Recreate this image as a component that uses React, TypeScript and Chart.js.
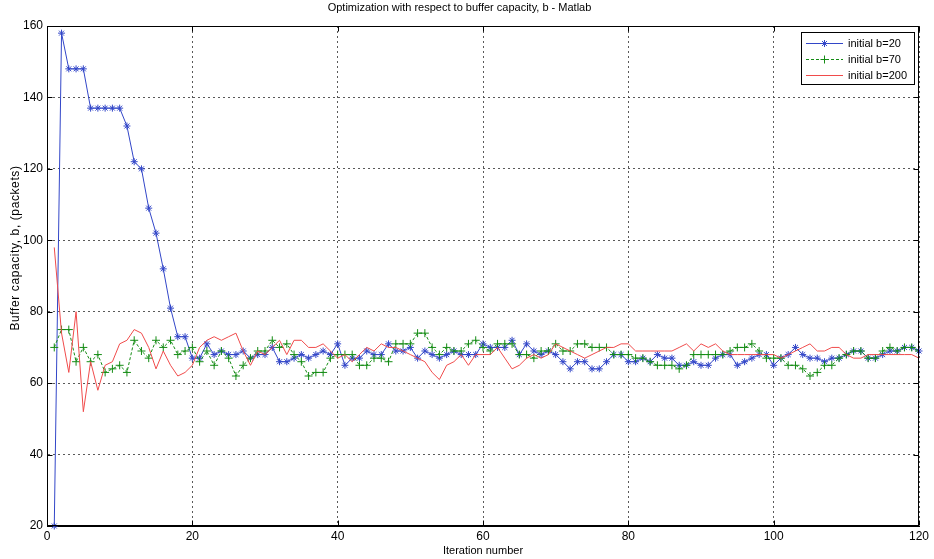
import React, { useEffect, useRef } from 'react';
import { Chart, registerables } from 'chart.js';

Chart.register(...registerables);

const chartTitle = 'Optimization with respect to buffer capacity, b - Matlab';
const xAxisTitle = 'Iteration number';
const yAxisTitle = 'Buffer capacity, b, (packets)';
const xTicks = [0, 20, 40, 60, 80, 100, 120];
const yTicks = [20, 40, 60, 80, 100, 120, 140, 160];
const seriesNames = ['initial b=20', 'initial b=70', 'initial b=200'];

const initialB20 = [
  20, 158, 148, 148, 148, 137, 137, 137, 137, 137,
  132, 122, 120, 109, 102, 92, 81, 73, 73, 67,
  67, 71, 68, 69, 68, 68, 69, 67, 68, 68,
  70, 66, 66, 67, 68, 67, 68, 69, 68, 71,
  65, 67, 67, 69, 68, 68, 71, 69, 69, 70,
  67, 69, 68, 67, 68, 69, 68, 68, 68, 71,
  70, 70, 70, 72, 68, 71, 69, 68, 69, 68,
  66, 64, 66, 66, 64, 64, 66, 68, 68, 66,
  66, 67, 66, 68, 67, 67, 65, 65, 66, 65,
  65, 67, 68, 68, 65, 66, 67, 68, 68, 65,
  67, 68, 70, 68, 67, 67, 66, 67, 67, 68,
  69, 69, 67, 67, 68, 69, 69, 70, 70, 69,
];

const initialB70 = [
  70, 75, 75, 66, 70, 66, 68, 63, 64, 65,
  63, 72, 69, 67, 72, 70, 72, 68, 69, 70,
  66, 69, 65, 69, 67, 62, 65, 67, 69, 69,
  72, 70, 71, 68, 66, 62, 63, 63, 67, 68,
  68, 68, 65, 65, 67, 67, 66, 71, 71, 71,
  74, 74, 70, 68, 70, 69, 69, 71, 72, 70,
  69, 71, 71, 71, 68, 68, 67, 69, 69, 71,
  69, 69, 71, 71, 70, 70, 70, 68, 68, 68,
  67, 67, 66, 65, 65, 65, 64, 65, 68, 68,
  68, 68, 68, 69, 70, 70, 71, 69, 67, 67,
  67, 65, 65, 64, 62, 63, 65, 65, 67, 68,
  69, 69, 67, 67, 69, 70, 69, 70, 70, 69,
];

const initialB200 = [
  98, 74, 63, 80, 52, 66, 58, 65, 66, 71,
  72, 75, 74, 70, 64, 69, 65, 62, 63, 65,
  70, 72, 73, 72, 73, 74, 69, 65, 69, 68,
  70, 72, 68, 72, 72, 70, 70, 71, 69, 67,
  68, 66, 68, 70, 69, 71, 70, 70, 69, 68,
  67, 66, 63, 61, 65, 66, 68, 65, 68, 68,
  68, 70, 67, 64, 65, 67, 68, 67, 68, 71,
  70, 69, 68, 67, 68, 69, 70, 70, 71, 71,
  69, 69, 69, 69, 69, 69, 70, 71, 69, 71,
  70, 71, 69, 68, 68, 68, 68, 68, 68, 68,
  67, 68, 69, 70, 71, 69, 69, 70, 70, 68,
  67, 67, 68, 68, 68, 68, 68, 68, 68, 67,
];

const iterations = Array.from({ length: initialB20.length }, (_, i) => i + 1);

const BLUE = 'rgb(50,70,200)';
const GREEN = 'rgb(20,140,20)';
const RED = 'rgb(240,75,75)';
const FONT = '"Liberation Sans", Arial, sans-serif';

const matlabFrame = {
  id: 'matlabFrame',
  afterDraw(chart: any) {
    const { ctx, chartArea: a, scales } = chart;
    const L = Math.round(a.left) + 0.5;
    const R = Math.round(a.right) - 0.5;
    const T = Math.round(a.top) + 0.5;
    const B = Math.round(a.bottom) - 0.5;
    ctx.save();
    ctx.strokeStyle = '#000';
    ctx.lineWidth = 1;
    ctx.setLineDash([]);
    ctx.strokeRect(L, T, R - L, B - T);
    const tl = 5;
    ctx.beginPath();
    for (const v of xTicks) {
      const px = Math.round(scales.x.getPixelForValue(v)) + 0.5;
      ctx.moveTo(px, B); ctx.lineTo(px, B - tl);
      ctx.moveTo(px, T); ctx.lineTo(px, T + tl);
    }
    for (const v of yTicks) {
      const py = Math.round(scales.y.getPixelForValue(v)) + 0.5;
      ctx.moveTo(L, py); ctx.lineTo(L + tl, py);
      ctx.moveTo(R, py); ctx.lineTo(R - tl, py);
    }
    ctx.stroke();

    // y axis label (Matlab places it slightly above the axis centre here)
    ctx.save();
    ctx.translate(16, 248);
    ctx.rotate(-Math.PI / 2);
    ctx.font = `12px ${FONT}`;
    try { (ctx as any).letterSpacing = '0.6px'; } catch (e) {}
    ctx.fillStyle = '#000';
    ctx.textAlign = 'center';
    ctx.textBaseline = 'middle';
    ctx.fillText(yAxisTitle, 0, 0);
    ctx.restore();

    // legend box
    const bx = 801.5, by = 32.5, bw = 113, bh = 52;
    ctx.fillStyle = '#fff';
    ctx.fillRect(bx, by, bw, bh);
    ctx.strokeRect(bx, by, bw, bh);
    const rows = [43, 59, 75];
    const colors = [BLUE, GREEN, RED];
    const dashes = [[], [3, 2], []];
    ctx.font = `11px ${FONT}`;
    ctx.textBaseline = 'middle';
    ctx.textAlign = 'left';
    rows.forEach((ry, i) => {
      const y = ry + 0.5;
      ctx.strokeStyle = colors[i];
      ctx.setLineDash(dashes[i]);
      ctx.beginPath();
      ctx.moveTo(806, y);
      ctx.lineTo(843, y);
      ctx.stroke();
      ctx.setLineDash([]);
      const mx = 824.5;
      const r = 3.5;
      ctx.beginPath();
      if (i === 0) {
        ctx.moveTo(mx - r, y); ctx.lineTo(mx + r, y);
        ctx.moveTo(mx, y - r); ctx.lineTo(mx, y + r);
        const d = r * 0.707;
        ctx.moveTo(mx - d, y - d); ctx.lineTo(mx + d, y + d);
        ctx.moveTo(mx - d, y + d); ctx.lineTo(mx + d, y - d);
      } else if (i === 1) {
        ctx.moveTo(mx - 4, y); ctx.lineTo(mx + 4, y);
        ctx.moveTo(mx, y - 4); ctx.lineTo(mx, y + 4);
      }
      ctx.stroke();
      ctx.fillStyle = '#000';
      ctx.fillText(seriesNames[i], 848, y);
    });
    ctx.restore();
  },
};

export default function App() {
  const ref = useRef<HTMLCanvasElement | null>(null);
  useEffect(() => {
    if (!ref.current) return;
    const chart = new Chart(ref.current, {
      type: 'line',
      data: {
        labels: iterations,
        datasets: [
          {
            label: seriesNames[0],
            data: initialB20,
            borderColor: BLUE,
            backgroundColor: BLUE,
            borderWidth: 1,
            pointStyle: 'star',
            pointRadius: 3.5,
            pointBorderColor: BLUE,
            pointBorderWidth: 1,
            tension: 0,
            fill: false,
            order: 2,
            clip: 6,
          },
          {
            label: seriesNames[1],
            data: initialB70,
            borderColor: GREEN,
            backgroundColor: GREEN,
            borderWidth: 1,
            borderDash: [3, 2],
            pointStyle: 'cross',
            pointRadius: 4,
            pointBorderColor: GREEN,
            pointBorderWidth: 1,
            tension: 0,
            fill: false,
            order: 1,
          },
          {
            label: seriesNames[2],
            data: initialB200,
            borderColor: RED,
            backgroundColor: RED,
            borderWidth: 1,
            pointRadius: 0,
            tension: 0,
            fill: false,
            order: 0,
          },
        ],
      },
      options: {
        responsive: false,
        animation: false,
        layout: { padding: { left: 0, right: 15, top: 0, bottom: 0 } },
        plugins: {
          legend: { display: false },
          tooltip: { enabled: false },
          title: {
            display: true,
            text: chartTitle,
            color: '#000',
            font: { family: FONT, size: 11, weight: 'normal' },
            padding: { top: 1, bottom: 11.8 },
          },
        },
        scales: {
          x: {
            type: 'linear',
            min: 0,
            max: 120,
            afterBuildTicks: (s: any) => { s.ticks = xTicks.map((v) => ({ value: v })); },
            afterFit: (s: any) => { s.height = 33; },
            ticks: { color: '#000', font: { family: FONT, size: 12 }, padding: 3, maxRotation: 0 },
            grid: { color: 'rgba(60,60,60,0.85)', lineWidth: 1, drawTicks: false },
            border: { display: true, color: '#000', width: 1, dash: [2, 3] },
            title: {
              display: true,
              text: xAxisTitle,
              color: '#000',
              font: { family: FONT, size: 11 },
              padding: { top: 0, bottom: 1 },
            },
          },
          y: {
            type: 'linear',
            min: 20,
            max: 160,
            afterBuildTicks: (s: any) => { s.ticks = yTicks.map((v) => ({ value: v })); },
            afterFit: (s: any) => { s.width = 47; },
            ticks: { color: '#000', font: { family: FONT, size: 12 }, padding: 4 },
            grid: { color: 'rgba(60,60,60,0.85)', lineWidth: 1, drawTicks: false },
            border: { display: true, color: '#000', width: 1, dash: [2, 3] },
            title: { display: false, text: yAxisTitle },
          },
        },
      },
      plugins: [matlabFrame],
    });
    return () => chart.destroy();
  }, []);

  return (
    <div style={{ position: 'fixed', left: 0, top: 0, width: 934, height: 559, background: '#fff' }}>
      <canvas ref={ref} width={934} height={559} style={{ display: 'block' }} />
    </div>
  );
}
